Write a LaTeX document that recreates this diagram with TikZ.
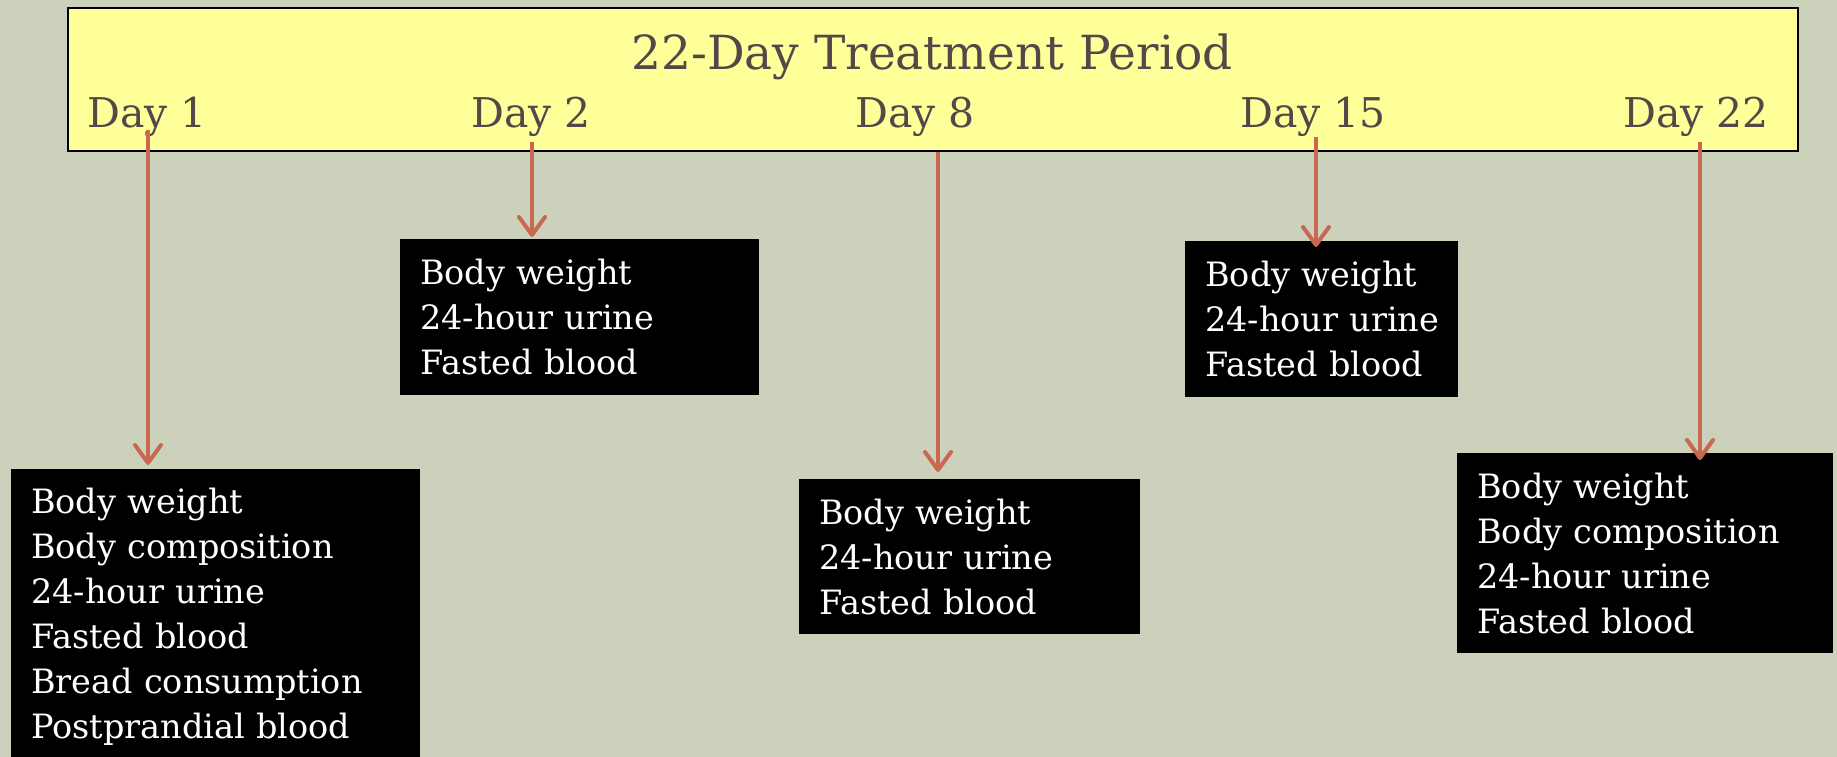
\documentclass[tikz,border=0pt]{standalone}
\usepackage{fontspec}
\setmainfont{DejaVu Serif}
\usetikzlibrary{arrows.meta}
\definecolor{bg}{RGB}{204,209,188}
\definecolor{ylw}{RGB}{255,255,153}
\definecolor{dtxt}{RGB}{82,72,72}
\definecolor{arrc}{RGB}{200,104,80}
\tikzset{
  daylbl/.style={anchor=base west, inner sep=0pt, text=dtxt, font=\fontsize{41}{45}\selectfont},
  infobox/.style={anchor=north west, fill=black, text=white, align=left, inner xsep=20pt, inner ysep=0pt,
    font=\fontsize{33.5}{45}\selectfont},
  arr/.style={draw=arrc, line width=4pt, -{Straight Barb[length=18pt,width=26pt,line cap=round,line join=round]}}
}
\begin{document}
\begin{tikzpicture}[x=1pt,y=-1pt]
\useasboundingbox (0,0) rectangle (1837,757);
\clip (0,0) rectangle (1837,757);
\fill[bg] (0,0) rectangle (1837,757);
% timeline box
\node[draw=black, line width=2pt, fill=ylw, anchor=north west, minimum width=1730pt, minimum height=143pt, inner sep=0pt] (tl) at (67,7) {};
\node[anchor=base, inner sep=0pt, text=dtxt, font=\fontsize{47}{50}\selectfont] (title) at (932,70) {22-Day Treatment Period};
\node[daylbl] (d1) at (87,128) {Day 1};
\node[daylbl] (d2) at (471,128) {Day 2};
\node[daylbl] (d8) at (855,128) {Day 8};
\node[daylbl] (d15) at (1240,128) {Day 15};
\node[daylbl] (d22) at (1623,128) {Day 22};
% boxes
\node[infobox, minimum width=409pt, minimum height=296pt, text width=369pt] (b1) at (11,469)
  {Body weight\\Body composition\\24-hour urine\\Fasted blood\\Bread consumption\\Postprandial blood};
\node[infobox, minimum width=359pt, minimum height=156pt, text width=319pt] (b2) at (400,239)
  {Body weight\\24-hour urine\\Fasted blood};
\node[infobox, minimum width=341pt, minimum height=155pt, text width=301pt] (b8) at (799,479)
  {Body weight\\24-hour urine\\Fasted blood};
\node[infobox, minimum width=273pt, minimum height=156pt, text width=233pt] (b15) at (1185,241)
  {\mbox{Body weight}\\\mbox{24-hour urine}\\\mbox{Fasted blood}};
\node[infobox, minimum width=376pt, minimum height=200pt, text width=336pt] (b22) at (1457,453)
  {Body weight\\Body composition\\24-hour urine\\Fasted blood};
% arrows
\coordinate (s1) at (148,130);
\coordinate (s2) at (532,142);
\coordinate (s8) at (938,152);
\coordinate (s15) at (1316,137);
\coordinate (s22) at (1700,142);
\draw[arr] (s1) -- ([yshift=4pt]s1 |- b1.north);
\draw[arr] (s2) -- ([yshift=2pt]s2 |- b2.north);
\draw[arr] (s8) -- ([yshift=7pt]s8 |- b8.north);
\draw[arr] (s15) -- ([yshift=-6pt]s15 |- b15.north);
\draw[arr] (s22) -- ([yshift=-7pt]s22 |- b22.north);
\end{tikzpicture}
\end{document}
